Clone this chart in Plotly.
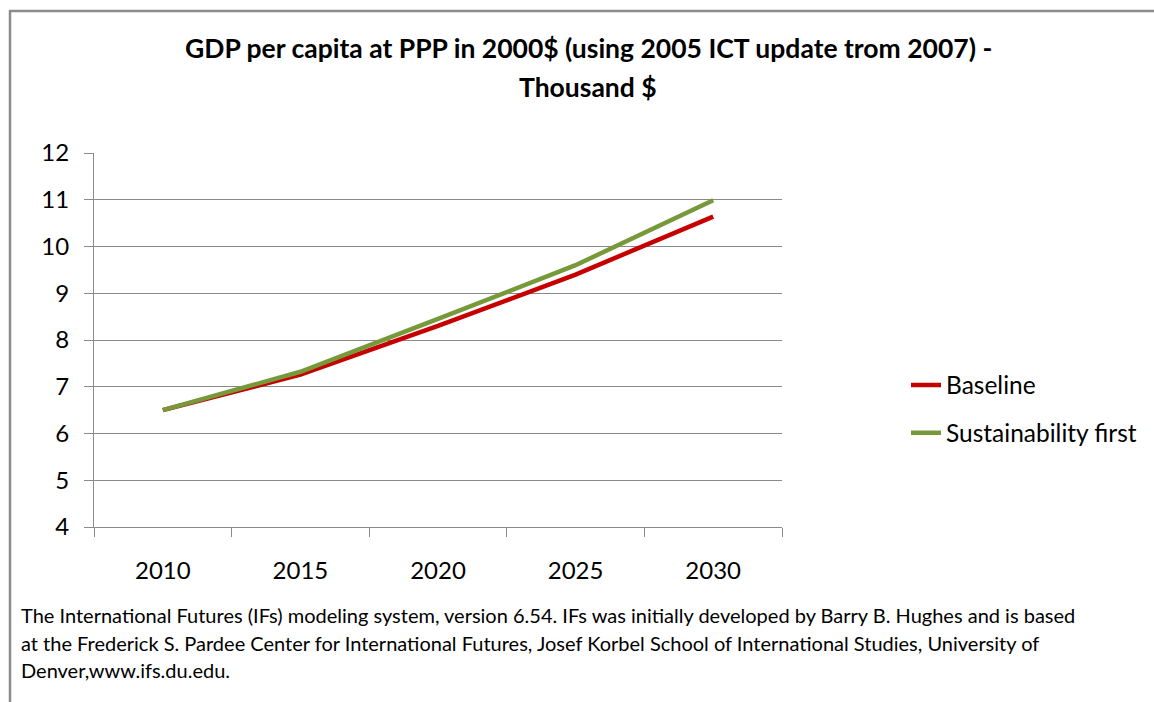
import plotly.graph_objects as go

years = ["2010", "2015", "2020", "2025", "2030"]
baseline = [6.50, 7.26, 8.30, 9.40, 10.64]
sustainability = [6.50, 7.32, 8.45, 9.60, 10.99]
series_names = ["Baseline", "Sustainability first"]
y_ticks = [4, 5, 6, 7, 8, 9, 10, 11, 12]

title_lines = ["GDP per capita at PPP in 2000$ (using 2005 ICT update trom 2007) -", "Thousand $"]
foot_lines = [
    "The International Futures (IFs) modeling system, version 6.54. IFs was initially developed by Barry B. Hughes and is based",
    "at the Frederick S. Pardee Center for International Futures, Josef Korbel School of International Studies, University of",
    "Denver,www.ifs.du.edu.",
]

FONT = "Lato"
GRID = "#8a8a8a"

fig = go.Figure()
fig.add_trace(go.Scatter(x=years, y=baseline, mode="lines", name=series_names[0],
                         line=dict(color="#C60000", width=4.5), legendgroup="a"))
fig.add_trace(go.Scatter(x=years, y=sustainability, mode="lines", name=series_names[1],
                         line=dict(color="#77993A", width=4.5), legendgroup="b"))

W, H = 1154, 702
# plot area in screen coordinates
L, R, T, B = 94, 782, 153, 527

def px(xs):
    return (xs - L) / (R - L)

def py(ys):
    return (B - ys) / (B - T)

fig.update_layout(
    width=W, height=H,
    margin=dict(l=L, r=W - R, t=T, b=H - B, autoexpand=False),
    paper_bgcolor="white", plot_bgcolor="white",
    font=dict(family=FONT, color="#000000", size=22),
    showlegend=True,
    legend=dict(x=px(906), y=py(409), xanchor="left", yanchor="middle",
                font=dict(size=24.5, family=FONT), traceorder="grouped",
                tracegroupgap=13, bgcolor="rgba(0,0,0,0)"),
    xaxis=dict(type="category", range=[-0.5, 4.5], showgrid=False,
               showline=True, linecolor=GRID, linewidth=1,
               ticks="outside", tickson="boundaries", ticklen=9, tickcolor=GRID,
               tickfont=dict(size=24, family=FONT), ticklabelstandoff=22),
    yaxis=dict(range=[4, 12], tickvals=y_ticks, showgrid=True, gridcolor=GRID, gridwidth=1,
               showline=True, linecolor=GRID, linewidth=1, zeroline=False,
               ticks="outside", ticklen=9, tickcolor=GRID,
               tickfont=dict(size=24, family=FONT), ticklabelstandoff=10),
)

# chart border (top and left edges; the rest lies outside the picture)
BORDER = dict(color="#8c8c8c", width=2.5)
fig.add_shape(type="line", xref="paper", yref="paper",
              x0=px(9), x1=px(1160), y0=py(11), y1=py(11), line=BORDER, layer="below")
fig.add_shape(type="line", xref="paper", yref="paper",
              x0=px(10), x1=px(10), y0=py(10), y1=py(710), line=BORDER, layer="below")

# title
for txt, yc in zip(title_lines, [48, 87]):
    fig.add_annotation(text="<b>" + txt + "</b>", xref="paper", yref="paper",
                       x=px(588), y=py(yc), xanchor="center", yanchor="middle",
                       showarrow=False, font=dict(size=26.5, family=FONT, color="#000000"))

# footnote
for txt, yc in zip(foot_lines, [615, 643, 670]):
    fig.add_annotation(text=txt, xref="paper", yref="paper",
                       x=px(19), y=py(yc), xanchor="left", yanchor="middle",
                       showarrow=False, font=dict(size=20, family=FONT, color="#000000"))

fig.write_html("out.html", config={"displayModeBar": False},
               post_script="document.body.style.margin='0';document.body.style.overflow='hidden';")
